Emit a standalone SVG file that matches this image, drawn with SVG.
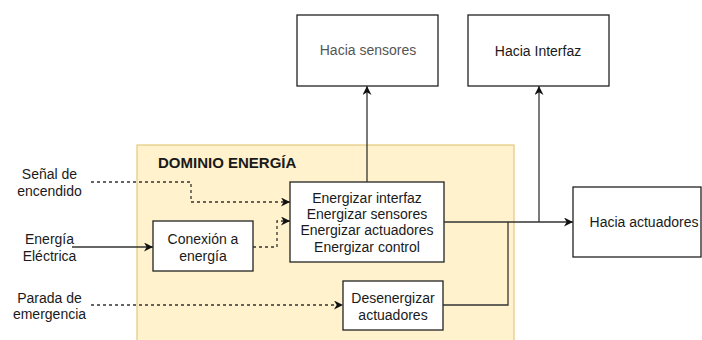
<svg xmlns="http://www.w3.org/2000/svg" width="702" height="340" viewBox="0 0 702 340">
<defs>
<marker id="arr" viewBox="0 0 10 10" refX="10" refY="5" markerWidth="9" markerHeight="9" orient="auto" markerUnits="userSpaceOnUse">
<path d="M0,0 L10,5 L0,10 L3,5 Z" fill="#111"/>
</marker>
<style>
.box{fill:#fff;stroke:#222;stroke-width:1.3}
.t{font-family:"Liberation Sans",Arial,sans-serif;font-size:14px;fill:#1a1a1a;text-anchor:middle}
.c{fill:none;stroke:#333;stroke-width:1.3}
.d{stroke-dasharray:3 3}
</style>
</defs>
<rect width="702" height="340" fill="#fff"/>
<g id="dominio">
<rect x="137" y="145" width="377" height="205" fill="#fff2cc" stroke="#e3c97c" stroke-width="1.2"/>
<text x="158" y="168" style="font-family:'Liberation Sans',Arial,sans-serif;font-size:15px;font-weight:bold;fill:#1a1a1a">DOMINIO ENERGÍA</text>
</g>
<g id="lbl-senal"><text class="t" x="49.5" y="179">Señal de</text><text class="t" x="49.5" y="196">encendido</text></g>
<g id="lbl-energia"><text class="t" x="49.5" y="244">Energía</text><text class="t" x="49.5" y="261">Eléctrica</text></g>
<g id="lbl-parada"><text class="t" x="49.5" y="303">Parada de</text><text class="t" x="49.5" y="319">emergencia</text></g>
<g id="conexion"><rect class="box" x="153" y="221" width="100" height="50"/><text class="t" x="203" y="244">Conexión a</text><text class="t" x="203" y="261">energía</text></g>
<g id="energizar"><rect class="box" x="290" y="182" width="154" height="80"/>
<text class="t" x="367" y="203">Energizar interfaz</text><text class="t" x="367" y="219">Energizar sensores</text><text class="t" x="367" y="235">Energizar actuadores</text><text class="t" x="367" y="252">Energizar control</text></g>
<g id="desenergizar"><rect class="box" x="343" y="281" width="100" height="49"/><text class="t" x="393" y="303">Desenergizar</text><text class="t" x="393" y="320">actuadores</text></g>
<g id="sensores"><rect class="box" x="297" y="15" width="141" height="71"/><text class="t" x="368" y="55" style="fill:#555">Hacia sensores</text></g>
<g id="interfaz"><rect class="box" x="468" y="15" width="141" height="71"/><text class="t" x="538" y="56">Hacia Interfaz</text></g>
<g id="actuadores"><rect class="box" x="573" y="187" width="128" height="70"/><text class="t" x="644" y="227">Hacia actuadores</text></g>
<g id="connectors">
<path class="c d" d="M91,182 H191 V202 H290" marker-end="url(#arr)"/>
<path class="c" d="M72,247 H153" marker-end="url(#arr)"/>
<path class="c d" d="M253,247 H277 V221 H290" marker-end="url(#arr)"/>
<path class="c d" d="M91,305 H343" marker-end="url(#arr)"/>
<path class="c" d="M367,182 V86" marker-end="url(#arr)"/>
<path class="c" d="M444,222 H573" marker-end="url(#arr)"/>
<path class="c" d="M539,222 V86" marker-end="url(#arr)"/>
<path class="c" d="M443,305 H508 V222"/>
</g>
</svg>
